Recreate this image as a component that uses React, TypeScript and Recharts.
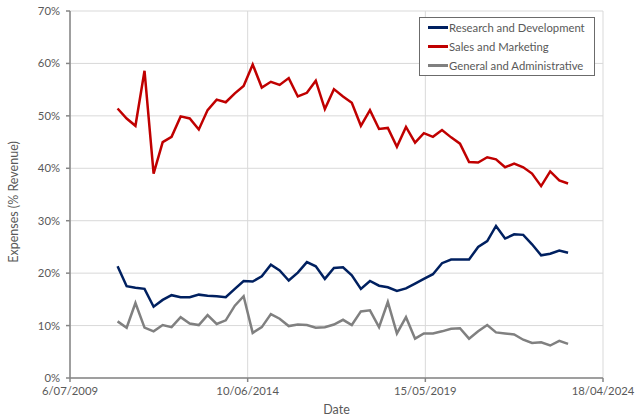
import { LineChart, Line, XAxis, YAxis, CartesianGrid } from 'recharts';

// fiscal quarter end dates
const quarterEnds = [
  '2010-10-31', '2011-01-31', '2011-04-30', '2011-07-31', '2011-10-31', '2012-01-31',
  '2012-04-30', '2012-07-31', '2012-10-31', '2013-01-31', '2013-04-30', '2013-07-31',
  '2013-10-31', '2014-01-31', '2014-04-30', '2014-07-31', '2014-10-31', '2015-01-31',
  '2015-04-30', '2015-07-31', '2015-10-31', '2016-01-31', '2016-04-30', '2016-07-31',
  '2016-10-31', '2017-01-31', '2017-04-30', '2017-07-31', '2017-10-31', '2018-01-31',
  '2018-04-30', '2018-07-31', '2018-10-31', '2019-01-31', '2019-04-30', '2019-07-31',
  '2019-10-31', '2020-01-31', '2020-04-30', '2020-07-31', '2020-10-31', '2021-01-31',
  '2021-04-30', '2021-07-31', '2021-10-31', '2022-01-31', '2022-04-30', '2022-07-31',
  '2022-10-31', '2023-01-31', '2023-04-30',
];

const researchDev = [
  21.3, 17.5, 17.2, 17.0, 13.6, 14.9, 15.8, 15.4, 15.4, 15.9,
  15.7, 15.6, 15.4, 17.0, 18.5, 18.4, 19.4, 21.6, 20.5, 18.6,
  20.1, 22.1, 21.3, 18.9, 21.0, 21.1, 19.6, 17.0, 18.5, 17.6,
  17.3, 16.6, 17.1, 18.0, 18.9, 19.8, 21.9, 22.6, 22.6, 22.6,
  25.0, 26.1, 29.0, 26.6, 27.4, 27.3, 25.5, 23.4, 23.7, 24.3, 23.9,
];

const salesMarketing = [
  51.4, 49.5, 48.1, 58.6, 39.0, 45.0, 46.0, 49.9, 49.5, 47.4,
  51.1, 53.1, 52.6, 54.3, 55.7, 59.8, 55.4, 56.5, 55.9, 57.2,
  53.7, 54.4, 56.7, 51.3, 55.1, 53.7, 52.5, 48.1, 51.1, 47.5,
  47.7, 44.1, 47.9, 44.9, 46.7, 46.0, 47.3, 45.9, 44.7, 41.2,
  41.1, 42.1, 41.7, 40.2, 40.9, 40.2, 39.0, 36.6, 39.4, 37.7, 37.1,
];

const generalAdmin = [
  10.8, 9.6, 14.3, 9.6, 8.9, 10.1, 9.7, 11.6, 10.4, 10.1,
  12.0, 10.3, 11.0, 13.8, 15.6, 8.6, 9.7, 12.2, 11.3, 9.9,
  10.2, 10.1, 9.6, 9.7, 10.2, 11.1, 10.1, 12.7, 12.9, 9.7,
  14.5, 8.5, 11.6, 7.5, 8.5, 8.5, 8.9, 9.4, 9.5, 7.5,
  8.9, 10.1, 8.7, 8.5, 8.3, 7.3, 6.7, 6.8, 6.2, 7.1, 6.5,
];

const xTickDates = ['2009-07-06', '2014-06-10', '2019-05-15', '2024-04-18'];
const yTicks = [0, 10, 20, 30, 40, 50, 60, 70];

const series = [
  { key: 'rd', name: 'Research and Development', color: '#002060' },
  { key: 'sm', name: 'Sales and Marketing', color: '#C00000' },
  { key: 'ga', name: 'General and Administrative', color: '#808080' },
];

const toDay = (s: string) => {
  const [y, m, d] = s.split('-').map(Number);
  return Date.UTC(y, m - 1, d) / 86400000;
};

const fmtDate = (v: number) => {
  const d = new Date(v * 86400000);
  const mm = String(d.getUTCMonth() + 1).padStart(2, '0');
  return `${d.getUTCDate()}/${mm}/${d.getUTCFullYear()}`;
};

const data = quarterEnds.map((q, i) => ({
  t: toDay(q),
  rd: researchDev[i],
  sm: salesMarketing[i],
  ga: generalAdmin[i],
}));

const xTicks = xTickDates.map(toDay);
const font = 'Lato, "Open Sans", sans-serif';
const textColor = '#595959';
const axisColor = '#868686';

const LegendBox = () => (
  <div
    style={{
      position: 'absolute',
      left: 419,
      top: 17,
      width: 176,
      height: 59,
      border: '1.5px solid #6b6b6b',
      background: '#fff',
      padding: '0 0 0 8px',
      fontFamily: font,
      fontSize: 11.3,
      color: textColor,
      boxSizing: 'border-box',
    }}
  >
    {series.map((s) => (
      <div key={s.key} style={{ display: 'flex', alignItems: 'center', height: 19 }}>
        <span style={{ display: 'inline-block', width: 20, height: 2.5, background: s.color, marginRight: 1 }} />
        <span>{s.name}</span>
      </div>
    ))}
  </div>
);

const YTitle = () => (
  <text
    x={13}
    y={202}
    transform="rotate(-90, 13, 202)"
    textAnchor="middle"
    dominantBaseline="central"
    fill={textColor}
    fontFamily={font}
    fontSize={12.5}
  >
    Expenses (% Revenue)
  </text>
);

export default function App() {
  return (
    <div style={{ position: 'absolute', left: 0, top: 0, width: 640, height: 418, background: '#fff' }}>
      <LineChart
        width={640}
        height={418}
        data={data}
        margin={{ top: 11, right: 37, left: 0, bottom: 0 }}
        style={{ fontFamily: font }}
      >
        <CartesianGrid stroke="#d9d9d9" strokeWidth={1} />
        <XAxis
          dataKey="t"
          type="number"
          domain={[xTicks[0], xTicks[3]]}
          ticks={xTicks}
          tickFormatter={fmtDate}
          height={40}
          stroke={axisColor}
          strokeWidth={1.5}
          tickSize={4}
          tickMargin={5}
          tick={{ fill: textColor, fontSize: 11.3, fontFamily: font }}
          label={{ value: 'Date', position: 'insideBottom', offset: 4, fill: textColor, fontSize: 12.5, fontFamily: font }}
        />
        <YAxis
          type="number"
          domain={[0, 70]}
          ticks={yTicks}
          tickFormatter={(v: number) => `${v}%`}
          width={70}
          stroke={axisColor}
          strokeWidth={1.5}
          tickSize={4}
          tickMargin={6}
          tick={{ fill: textColor, fontSize: 11.3, fontFamily: font }}
          label={<YTitle />}
        />
        {series.map((s) => (
          <Line
            key={s.key}
            type="linear"
            dataKey={s.key}
            name={s.name}
            stroke={s.color}
            strokeWidth={2.5}
            dot={false}
            isAnimationActive={false}
          />
        ))}
      </LineChart>
      <LegendBox />
    </div>
  );
}
